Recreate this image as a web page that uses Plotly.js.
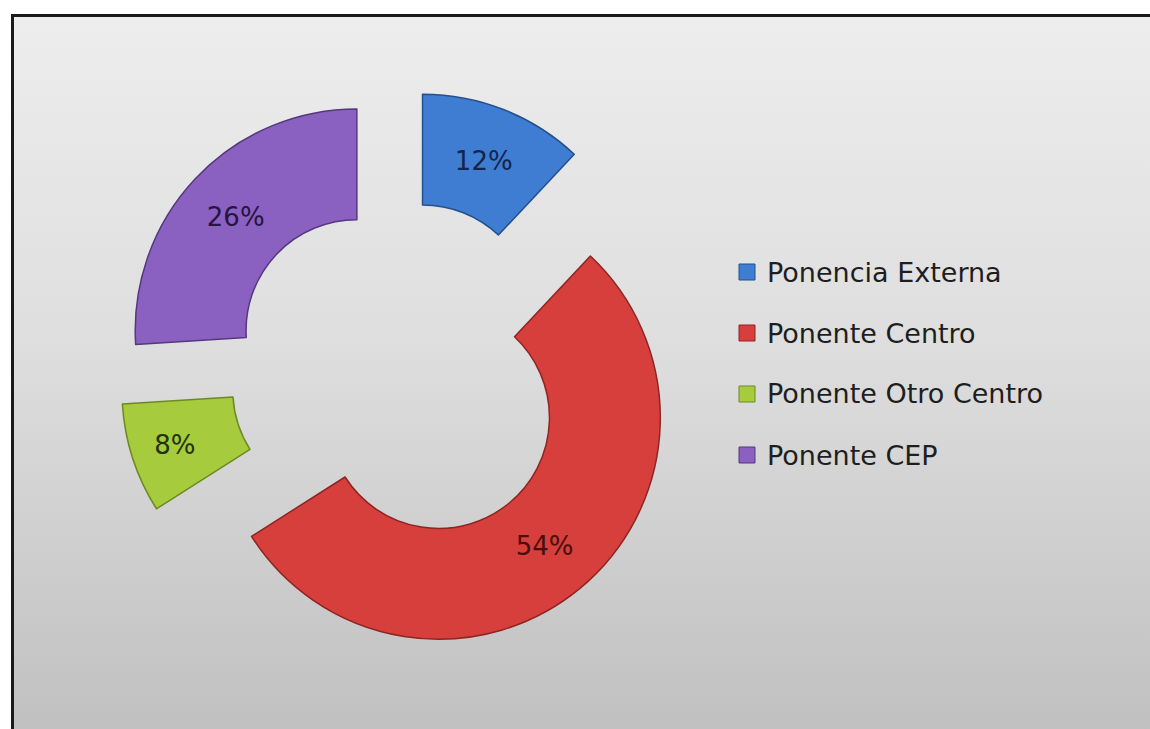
<!DOCTYPE html>
<html>
<head>
<meta charset="utf-8">
<script src="https://cdn.plot.ly/plotly-3.0.1.min.js"></script>
<style>
  html, body { margin: 0; padding: 0; background: #ffffff; width: 1150px; height: 729px; overflow: hidden; }
  #frame {
    position: absolute; left: 11px; top: 14px; width: 1150px; height: 730px;
    border-left: 3px solid #1a1a1a; border-top: 3px solid #1a1a1a;
    background: linear-gradient(to bottom, #ededed 0%, #dedede 45%, #bfbfbf 100%);
  }
  #chart { position: absolute; left: 0; top: 0; width: 1150px; height: 729px; }
</style>
</head>
<body>
<div id="frame"></div>
<div id="chart"></div>
<script>
const categories = ['Ponencia Externa', 'Ponente Centro', 'Ponente Otro Centro', 'Ponente CEP'];
const values = [12, 54, 8, 26];
const sliceColors = ['#3f7dd2', '#d63f3b', '#a6cc3e', '#8a60c0'];
const edgeColors = ['#24508e', '#8e2522', '#6d8a22', '#56387f'];
const labelColors = ['#14254d', '#4a0f0d', '#23330a', '#261540'];

const W = 1150, H = 729;

const trace = {
  type: 'pie',
  labels: categories,
  values: values,
  sort: false,
  direction: 'clockwise',
  rotation: 0,
  hole: 0.5,
  pull: [0.27, 0.27, 0.27, 0.27],
  marker: { colors: sliceColors, line: { color: edgeColors, width: 1.5 } },
  textinfo: 'percent',
  texttemplate: '%{percent:.0%}',
  textposition: 'inside',
  insidetextorientation: 'horizontal',
  textfont: { family: 'DejaVu Sans', size: 26, color: labelColors },
  showlegend: false,
  hoverinfo: 'label+percent',
  domain: { x: [119 / W, 682 / W], y: [1 - 653 / H, 1 - 90 / H] }
};

// Legend drawn as shapes + annotations (spacing matches reference)
const legendX = 739, legendTextX = 765, legendY0 = 272, legendStep = 61, sq = 16;
const shapes = [], annotations = [];
categories.forEach((c, i) => {
  const cy = legendY0 + i * legendStep;
  shapes.push({
    type: 'rect', xref: 'paper', yref: 'paper',
    x0: legendX / W, x1: (legendX + sq) / W,
    y0: 1 - (cy + sq / 2) / H, y1: 1 - (cy - sq / 2) / H,
    fillcolor: sliceColors[i], line: { color: edgeColors[i], width: 1 }
  });
  annotations.push({
    xref: 'paper', yref: 'paper', x: legendTextX / W, y: 1 - cy / H,
    xanchor: 'left', yanchor: 'middle', showarrow: false,
    text: c, font: { family: 'DejaVu Sans', size: 27, color: '#1e1e1e' }
  });
});

const layout = {
  width: W, height: H,
  margin: { l: 0, r: 0, t: 0, b: 0 },
  paper_bgcolor: 'rgba(0,0,0,0)',
  plot_bgcolor: 'rgba(0,0,0,0)',
  showlegend: false,
  shapes: shapes,
  annotations: annotations
};

Plotly.newPlot('chart', [trace], layout, { displayModeBar: false, staticPlot: true });
</script>
</body>
</html>
